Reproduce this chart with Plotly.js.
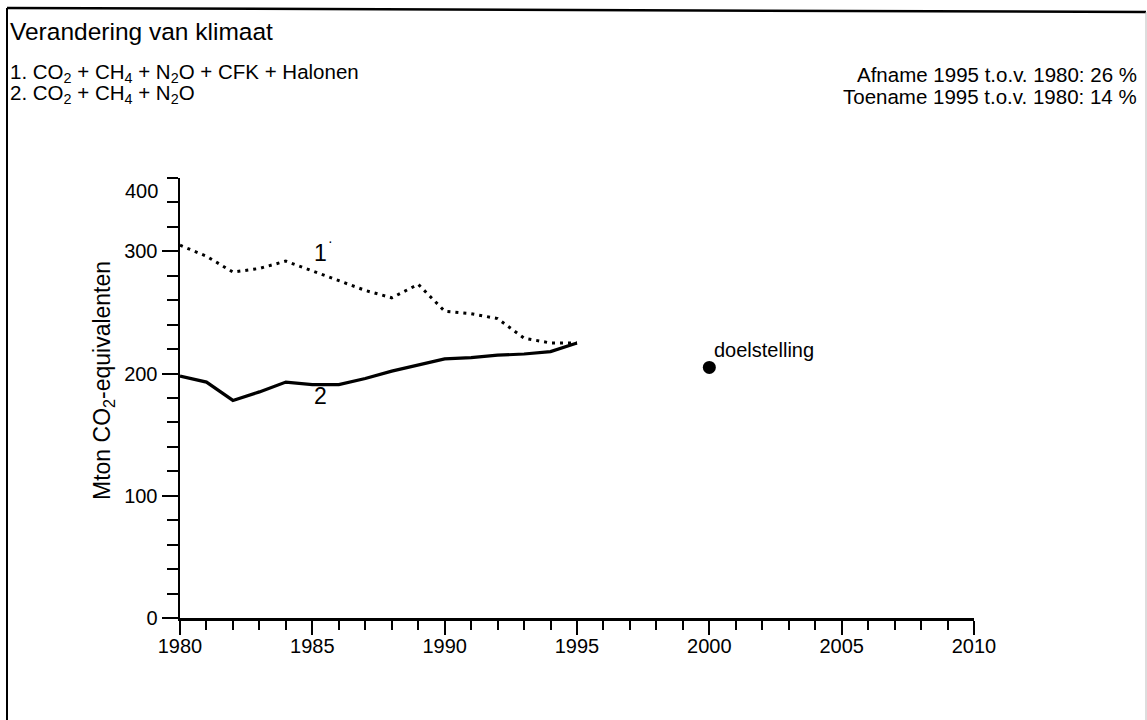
<!DOCTYPE html>
<html>
<head>
<meta charset="utf-8">
<script src="https://cdn.plot.ly/plotly-3.0.1.min.js"></script>
<style>html,body{margin:0;padding:0;background:#fff}#chart{width:1147px;height:720px}</style>
</head>
<body>
<div id="chart"></div>
<script>
// ---- data ----
const years = [1980,1981,1982,1983,1984,1985,1986,1987,1988,1989,1990,1991,1992,1993,1994,1995];
const series1 = [305,296,283,286,292,284,276,268,262,273,251,249,245,229,225,225]; // CO2+CH4+N2O+CFK+Halonen
const series2 = [198,193,178,185,193,191,191,196,202,207,212,213,215,216,218,225]; // CO2+CH4+N2O
const targetYear = [2000];
const targetValue = [205];
const yTickVals = [0,100,200,300];
const yTickText = ['0','100','200','300'];
const yTopLabel = '400';
const xTickVals = [1980,1985,1990,1995,2000,2005,2010];

const FONT = '"Liberation Sans", Arial, sans-serif';

// pixel -> paper helpers (plot area: x 180..974, y 178..618)
const L = 180, R = 173, T = 178, B = 102, W = 1147, H = 720;
const PW = W - L - R, PH = H - T - B;
const px = x => (x - L) / PW;
const py = y => (H - B - y) / PH;

const traces = [
  {x: years, y: series1, mode: 'lines', line: {color: '#000', width: 3, dash: '3px,5px'}, hoverinfo: 'skip'},
  {x: years, y: series2, mode: 'lines', line: {color: '#000', width: 3.2}, hoverinfo: 'skip'},
  {x: targetYear, y: targetValue, mode: 'markers', marker: {color: '#000', size: 13}, hoverinfo: 'skip'}
];

function txt(text, x, y, size, xanchor, extra) {
  return Object.assign({text: text, xref: 'paper', yref: 'paper', x: px(x), y: py(y),
    xanchor: xanchor || 'left', yanchor: 'middle', showarrow: false,
    font: {family: FONT, size: size, color: '#000'}}, extra || {});
}

const layout = {
  width: W, height: H,
  margin: {l: L, r: R, t: T, b: B, pad: 0},
  paper_bgcolor: '#fff', plot_bgcolor: '#fff',
  showlegend: false,
  font: {family: FONT, color: '#000'},
  xaxis: {
    range: [1980, 2010], tickmode: 'array', tickvals: xTickVals,
    ticks: 'outside', ticklen: 14, tickwidth: 2, tickcolor: '#000',
    minor: {tickmode: 'linear', tick0: 1980, dtick: 1, ticks: 'outside', ticklen: 9, tickwidth: 2, tickcolor: '#000', showgrid: false},
    showline: true, linecolor: '#000', linewidth: 2.5, showgrid: false, zeroline: false,
    ticklabelstandoff: -6,
    tickfont: {family: FONT, size: 20, color: '#000'}, fixedrange: true
  },
  yaxis: {
    range: [0, 360], tickmode: 'array', tickvals: yTickVals, ticktext: yTickText,
    ticks: 'outside', ticklen: 16, tickwidth: 2, tickcolor: '#000',
    minor: {tickmode: 'linear', tick0: 0, dtick: 20, ticks: 'outside', ticklen: 11, tickwidth: 2, tickcolor: '#000', showgrid: false},
    showline: true, linecolor: '#000', linewidth: 2.5, showgrid: false, zeroline: false,
    tickfont: {family: FONT, size: 20, color: '#000'}, fixedrange: true
  },
  annotations: [
    txt('Verandering van klimaat', 8, 31, 24.5),
    txt('1. CO<sub>2</sub> + CH<sub>4</sub> + N<sub>2</sub>O + CFK + Halonen', 8, 73, 20.5),
    txt('2. CO<sub>2</sub> + CH<sub>4</sub> + N<sub>2</sub>O', 8, 94, 20.5),
    txt('Afname 1995 t.o.v. 1980: 26 %', 1139, 74, 20.5, 'right'),
    txt('Toename 1995 t.o.v. 1980: 14 %', 1139, 96, 20.5, 'right'),
    txt('Mton CO<sub>2</sub>-equivalenten', 103, 381, 23, 'center', {textangle: -90}),
    txt(yTopLabel, 160, 191, 20, 'right'),
    txt('1', 320, 253, 23, 'center'),
    txt('·', 330, 241, 14, 'center'),
    txt('2', 320, 396, 23, 'center'),
    txt('doelstelling', 712, 350, 20, 'left')
  ],
  shapes: [
    {type: 'line', xref: 'paper', yref: 'paper', x0: px(7), y0: py(8), x1: px(1146), y1: py(12), line: {color: '#000', width: 2.5}},
    {type: 'line', xref: 'paper', yref: 'paper', x0: px(7), y0: py(8), x1: px(7), y1: py(720), line: {color: '#000', width: 2}},
    {type: 'line', xref: 'paper', yref: 'paper', x0: px(1146), y0: py(12), x1: px(1146), y1: py(720), line: {color: '#bbb', width: 1}}
  ]
};

Plotly.newPlot('chart', traces, layout, {staticPlot: true, displayModeBar: false});
</script>
</body>
</html>
